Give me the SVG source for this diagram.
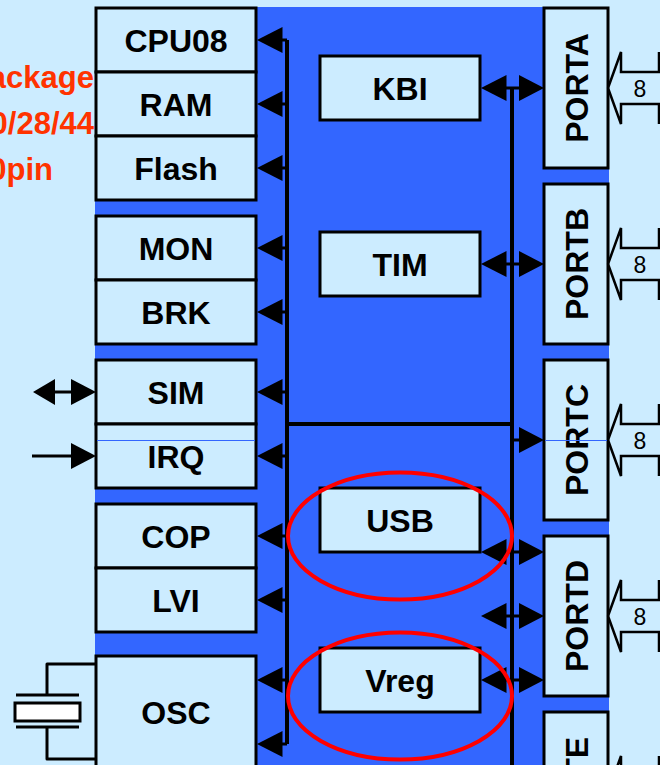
<svg xmlns="http://www.w3.org/2000/svg" width="660" height="765" viewBox="0 0 660 765">
<style>
.b{fill:#CCECFF;stroke:#000;stroke-width:3}
.t{font-family:"Liberation Sans",Arial,sans-serif;font-weight:700;font-size:32px;fill:#000;text-anchor:middle}
.r{font-family:"Liberation Sans",Arial,sans-serif;font-weight:700;font-size:31px;fill:#FF3300}
.n{font-family:"Liberation Sans",Arial,sans-serif;font-size:23px;fill:#000;text-anchor:middle}
.w{fill:none;stroke:#000;stroke-width:4}
.s{fill:none;stroke:#000;stroke-width:3;stroke-linejoin:round}
.e{fill:none;stroke:#FF0000;stroke-width:4}
.h{fill:#000}
.p{fill:#CCECFF;stroke:#000;stroke-width:2.5}
.c{stroke:#3366FF;stroke-width:1}
</style>
<defs>
<path id="al" class="h" d="M0 0L25.5 -13V13Z"/>
<path id="ar" class="h" d="M0 0L-25 -13V13Z"/>
<path id="pa" class="p" d="M0 0L13 -36V-16H52M0 0L13 36V16H52M51 -36V-16M51 36V16"/>
</defs>
<rect width="660" height="765" fill="#CCECFF"/>
<rect x="95" y="7" width="514" height="758" fill="#3366FF"/>
<g id="package-text">
<text class="r" x="94" y="88" text-anchor="end">ackage</text>
<text class="r" x="94" y="134" text-anchor="end">0/28/44</text>
<text class="r" x="53" y="180" text-anchor="end">0pin</text>
</g>
<g id="cpu08"><rect class="b" x="96" y="8" width="160" height="64"/><text class="t" x="176" y="52">CPU08</text></g>
<g id="ram"><rect class="b" x="96" y="72" width="160" height="64"/><text class="t" x="176" y="116">RAM</text></g>
<g id="flash"><rect class="b" x="96" y="136" width="160" height="64"/><text class="t" x="176" y="180">Flash</text></g>
<g id="mon"><rect class="b" x="96" y="216" width="160" height="64"/><text class="t" x="176" y="260">MON</text></g>
<g id="brk"><rect class="b" x="96" y="280" width="160" height="64"/><text class="t" x="176" y="324">BRK</text></g>
<g id="sim"><rect class="b" x="96" y="360" width="160" height="64"/><text class="t" x="176" y="404">SIM</text></g>
<g id="irq"><rect class="b" x="96" y="424" width="160" height="64"/><text class="t" x="176" y="468">IRQ</text></g>
<g id="cop"><rect class="b" x="96" y="504" width="160" height="64"/><text class="t" x="176" y="548">COP</text></g>
<g id="lvi"><rect class="b" x="96" y="568" width="160" height="64"/><text class="t" x="176" y="612">LVI</text></g>
<g id="osc"><rect class="b" x="96" y="656" width="160" height="130"/><text class="t" x="176" y="724">OSC</text></g>
<g id="kbi"><rect class="b" x="320" y="56" width="160" height="64"/><text class="t" x="400" y="100">KBI</text></g>
<g id="tim"><rect class="b" x="320" y="232" width="160" height="64"/><text class="t" x="400" y="276">TIM</text></g>
<g id="usb"><rect class="b" x="320" y="488" width="160" height="64"/><text class="t" x="400" y="532">USB</text></g>
<g id="vreg"><rect class="b" x="320" y="648" width="160" height="64"/><text class="t" x="400" y="692">Vreg</text></g>
<g id="porta"><rect class="b" x="544" y="8" width="64" height="160"/><text class="t" transform="translate(588 88) rotate(-90)">PORTA</text></g>
<g id="portb"><rect class="b" x="544" y="184" width="64" height="160"/><text class="t" transform="translate(588 264) rotate(-90)">PORTB</text></g>
<g id="portc"><rect class="b" x="544" y="360" width="64" height="160"/><text class="t" transform="translate(588 440) rotate(-90)">PORTC</text></g>
<g id="portd"><rect class="b" x="544" y="536" width="64" height="160"/><text class="t" transform="translate(588 616) rotate(-90)">PORTD</text></g>
<g id="porte"><rect class="b" x="544" y="712" width="64" height="160"/><text class="t" transform="translate(588 792) rotate(-90)">PORTE</text></g>
<g id="connectors">
<path class="w" d="M287 40V744M285 424H512M512 88V765"/>
<path class="s" d="M280 40H287M280 104H287M280 168H287M280 248H287M280 312H287M280 392H287M280 456H287M280 536H287M280 600H287M280 680H287M280 744H287"/>
<g id="bus-arrows">
<use href="#al" x="257" y="40"/><use href="#al" x="257" y="104"/><use href="#al" x="257" y="168"/>
<use href="#al" x="257" y="248"/><use href="#al" x="257" y="312"/><use href="#al" x="257" y="392"/>
<use href="#al" x="257" y="456"/><use href="#al" x="257" y="536"/><use href="#al" x="257" y="600"/>
<use href="#al" x="257" y="680"/><use href="#al" x="257" y="744"/>
</g>
<path class="s" d="M500 88H525M500 264H525M500 552H525M500 616H525M500 680H525M512 440H525"/>
<use href="#al" x="481" y="88"/><use href="#ar" x="544" y="88"/>
<use href="#al" x="481" y="264"/><use href="#ar" x="544" y="264"/>
<use href="#ar" x="544" y="440"/>
<use href="#al" x="481" y="552"/><use href="#ar" x="544" y="552"/>
<use href="#al" x="481" y="616"/><use href="#ar" x="544" y="616"/>
<use href="#al" x="481" y="680"/><use href="#ar" x="544" y="680"/>
<path class="s" d="M50 392H80M32 456H80"/>
<path class="h" d="M33 392L55 379V405Z"/>
<use href="#ar" x="96" y="392"/><use href="#ar" x="96" y="456"/>
<path class="s" d="M96 664H47V695M96 759H47V727M16 695H79M16 727H79"/>
<use href="#pa" x="608" y="88"/><use href="#pa" x="608" y="264"/><use href="#pa" x="608" y="440"/><use href="#pa" x="608" y="616"/><use href="#pa" x="608" y="792"/>
</g>
<g id="crystal"><rect x="15" y="703" width="65" height="18" fill="#fff" stroke="#000" stroke-width="3"/></g>
<g id="widths">
<text class="n" x="640" y="97">8</text><text class="n" x="640" y="273">8</text><text class="n" x="640" y="449">8</text><text class="n" x="640" y="625">8</text>
</g>
<path class="c" d="M97 440.5H255M545 440.5H607"/>
<ellipse class="e" cx="400" cy="536" rx="112" ry="63.5"/>
<ellipse class="e" cx="400" cy="696" rx="112" ry="63.5"/>
</svg>
